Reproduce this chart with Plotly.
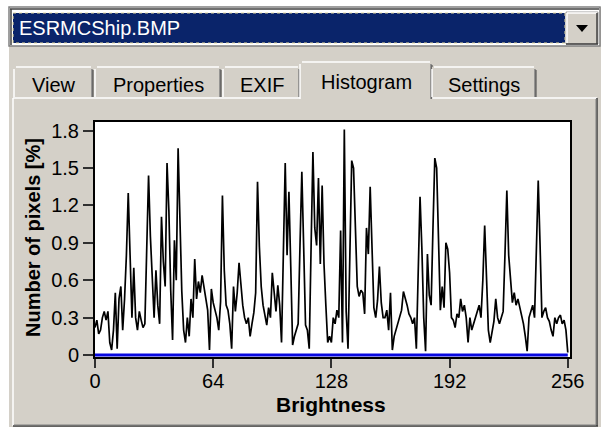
import plotly.graph_objects as go

# Histogram of brightness levels (percentage of pixels per level)
brightness = list(range(257))
pixels_pct = [
    0.22, 0.28, 0.17, 0.20, 0.30, 0.35, 0.28, 0.35, 0.10, 0.04,
    0.20, 0.50, 0.05, 0.45, 0.55, 0.20, 0.45, 0.80, 1.30, 0.78,
    0.30, 0.70, 0.30, 0.20, 0.35, 0.28, 0.22, 0.25, 0.90, 1.44,
    0.95, 0.55, 0.30, 0.68, 0.40, 0.25, 1.11, 0.75, 0.55, 1.54,
    1.16, 0.52, 0.12, 0.92, 0.60, 1.66, 1.04, 0.51, 0.20, 0.10,
    0.30, 0.15, 0.45, 0.30, 0.77, 0.45, 0.59, 0.50, 0.64, 0.55,
    0.45, 0.36, 0.04, 0.53, 0.42, 0.35, 0.30, 0.20, 0.43, 1.28,
    0.68, 0.40, 0.36, 0.25, 0.05, 0.55, 0.35, 0.50, 0.74, 0.57,
    0.40, 0.30, 0.25, 0.30, 0.15, 0.25, 0.34, 0.50, 1.39, 0.87,
    0.55, 0.40, 0.30, 0.24, 0.38, 0.30, 0.66, 0.50, 0.35, 0.56,
    0.40, 0.10, 0.83, 1.54, 0.80, 1.31, 0.71, 0.08, 0.15, 0.20,
    0.25, 0.88, 1.47, 0.86, 0.24, 0.20, 0.05, 0.86, 1.63, 1.02,
    0.88, 1.42, 0.73, 1.36, 0.73, 0.40, 0.10, 0.15, 0.10, 0.30,
    0.25, 0.36, 0.30, 1.00, 0.10, 1.81, 0.35, 0.05, 0.98, 1.56,
    1.50, 0.93, 0.55, 0.47, 0.52, 0.50, 0.33, 1.02, 0.81, 1.35,
    0.81, 0.38, 0.30, 0.44, 0.71, 0.42, 0.30, 0.30, 0.36, 0.20,
    0.50, 0.04, 0.15, 0.20, 0.25, 0.30, 0.36, 0.51, 0.46, 0.40,
    0.33, 0.30, 0.25, 0.30, 0.05, 0.66, 1.27, 0.85, 0.30, 0.03,
    0.81, 0.48, 0.40, 1.02, 1.58, 1.50, 0.80, 0.36, 0.55, 0.38,
    0.90, 0.85, 0.66, 0.30, 0.28, 0.22, 0.33, 0.30, 0.45, 0.35,
    0.40, 0.30, 0.10, 0.30, 0.20, 0.25, 0.30, 0.36, 0.40, 0.30,
    0.60, 1.04, 0.60, 0.20, 0.10, 0.20, 0.27, 0.45, 0.30, 0.25,
    0.30, 0.35, 0.81, 1.32, 0.80, 0.60, 0.42, 0.50, 0.40, 0.45,
    0.38, 0.30, 0.25, 0.15, 0.03, 0.30, 0.35, 0.40, 0.30, 0.88,
    1.40, 0.88, 0.30, 0.35, 0.38, 0.30, 0.27, 0.20, 0.15, 0.30,
    0.25, 0.30, 0.32, 0.25, 0.28, 0.20, 0.02,
]

x_ticks = [0, 64, 128, 192, 256]
y_ticks = [0, 0.3, 0.6, 0.9, 1.2, 1.5, 1.8]
y_tick_labels = ["0", "0.3", "0.6", "0.9", "1.2", "1.5", "1.8"]

file_name = "ESRMCShip.BMP"
tab_names = ["View", "Properties", "EXIF", "Histogram", "Settings"]

# Window geometry (pixels)
W, H = 601, 429
L, R, T, B = 95, 570, 122, 357

GRAY = "#D4D0C8"
DARK = "#808080"
FONT = "Liberation Sans, Arial, sans-serif"


def fx(p):
    return (p - L) / (R - L)


def fy(p):
    return (B - p) / (B - T)


shapes = []


def rect(x0, y0, x1, y1, fill, line_color=None, line_width=0, dash=None):
    ln = dict(width=line_width)
    if line_color:
        ln["color"] = line_color
    if dash:
        ln["dash"] = dash
    shapes.append(dict(type="rect", xref="paper", yref="paper",
                       x0=fx(x0), x1=fx(x1), y0=fy(y0), y1=fy(y1),
                       fillcolor=fill, line=ln, layer="above"))


def seg(x0, y0, x1, y1, color, width=1.5):
    shapes.append(dict(type="line", xref="paper", yref="paper",
                       x0=fx(x0), x1=fx(x1), y0=fy(y0), y1=fy(y1),
                       line=dict(color=color, width=width), layer="above"))


# White outer margin
rect(0, 0, W, 7, "white")
rect(0, 0, 9, H, "white")
rect(0, 427, W, H, "white")

# Combo box with highlighted file name
rect(9, 7, 600, 46, "white", DARK, 1.5)
seg(10, 9, 599, 9, "#404040", 1.5)
seg(11, 9, 11, 45, "#404040", 1.5)
rect(13, 13, 565, 43, "#0A246A", "#E8DCA0", 1, "dot")
rect(566, 12, 598, 44, GRAY, "#A0A0A0", 1)
seg(567, 13, 597, 13, "white", 1.5)
seg(567, 13, 567, 43, "white", 1.5)
seg(597, 13, 597, 44, "#404040", 1.5)
seg(566, 44, 598, 44, "#404040", 1.5)
shapes.append(dict(type="path", xref="paper", yref="paper",
                   path=f"M {fx(576)},{fy(25)} L {fx(588)},{fy(25)} L {fx(582)},{fy(32)} Z",
                   fillcolor="black", line=dict(width=0), layer="above"))

# Tabs
tab_spans = [(14, 93), (95, 221), (223, 300), (300, 432), (432, 536)]
selected = 3
for i, (a, b) in enumerate(tab_spans):
    top = 62 if i == selected else 67
    bot = 99 if i == selected else 97
    rect(a, top, b, bot, GRAY)
    seg(a, bot, a, top + 2, "white", 1.5)
    seg(a + 2, top, b - 2, top, "white", 1.5)
    seg(b - 1, top + 2, b - 1, bot, DARK, 1.5)
    seg(b, top + 3, b, bot, "#404040", 1)

# Panel border
seg(13, 98, 300, 98, "white", 1.5)
seg(432, 98, 597, 98, "white", 1.5)
seg(13, 98, 13, 426, "white", 1.5)
seg(13, 426, 598, 426, "#404040", 1.5)
seg(597, 98, 597, 426, "#404040", 1.5)
seg(14, 425, 596, 425, DARK, 1)
seg(596, 99, 596, 425, DARK, 1)

annotations = [
    dict(text=file_name, x=fx(17), y=fy(28), xanchor="left", yanchor="middle",
         font=dict(family=FONT, size=20, color="white")),
    dict(text="Number of pixels [%]", x=fx(33), y=fy(238), textangle=-90,
         xanchor="center", yanchor="middle",
         font=dict(family=FONT, size=20, color="black", weight="bold")),
    dict(text="Brightness", x=fx(331), y=fy(404), xanchor="center", yanchor="middle",
         font=dict(family=FONT, size=21, color="black", weight="bold")),
]
for i, ((a, b), name) in enumerate(zip(tab_spans, tab_names)):
    cy = 82 if i == selected else 85
    annotations.append(dict(text=name, x=fx((a + b) / 2), y=fy(cy),
                            xanchor="center", yanchor="middle",
                            font=dict(family=FONT, size=20, color="black")))
for a in annotations:
    a.update(xref="paper", yref="paper", showarrow=False)

fig = go.Figure()
fig.add_trace(go.Scatter(x=brightness, y=pixels_pct, mode="lines",
                         line=dict(color="black", width=1.7),
                         hoverinfo="skip"))
fig.add_trace(go.Scatter(x=[brightness[0], brightness[-1]], y=[0, 0], mode="lines",
                         line=dict(color="#0808E0", width=3),
                         hoverinfo="skip"))

fig.update_layout(
    width=W, height=H,
    margin=dict(l=L, r=W - R, t=T, b=H - B),
    paper_bgcolor=GRAY, plot_bgcolor="white",
    showlegend=False,
    shapes=shapes,
    annotations=annotations,
    font=dict(family=FONT, size=20, color="black"),
)
fig.update_xaxes(range=[0, 257.2], tickvals=x_ticks, ticks="outside", ticklen=9,
                 tickwidth=2, tickcolor="#303030", showline=True, linecolor="black",
                 linewidth=2, mirror=True, showgrid=False, zeroline=False,
                 ticklabelstandoff=-4, tickfont=dict(size=20))
fig.update_yaxes(range=[-0.016, 1.87], tickvals=y_ticks, ticktext=y_tick_labels,
                 ticks="outside", ticklen=10, tickwidth=2, tickcolor="#303030",
                 showline=True, linecolor="black", linewidth=2, mirror=True,
                 showgrid=False, zeroline=False, tickfont=dict(size=20))

fig.write_html("out.html")
